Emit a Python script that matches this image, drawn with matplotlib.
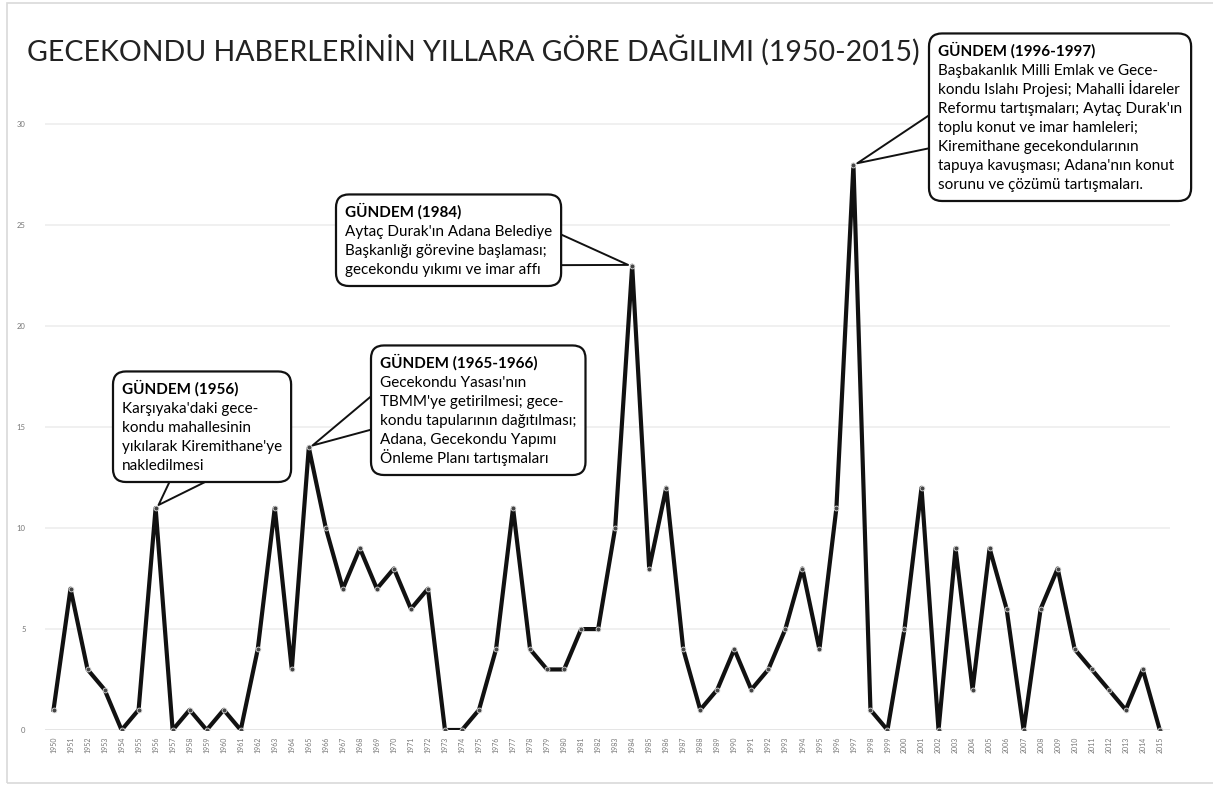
import matplotlib.pyplot as plt
from matplotlib.patches import Rectangle, FancyBboxPatch
from matplotlib.transforms import Bbox, IdentityTransform

# yearly number of news items
years = list(range(1950, 2016))
counts = [1, 7, 3, 2, 0, 1, 11, 0, 1, 0, 1, 0, 4, 11, 3, 14, 10, 7, 9, 7,
          8, 6, 7, 0, 0, 1, 4, 11, 4, 3, 3, 5, 5, 10, 23, 8, 12, 4, 1, 2,
          4, 2, 3, 5, 8, 4, 11, 28, 1, 0, 5, 12, 0, 9, 2, 9, 6, 0, 6, 8,
          4, 3, 2, 1, 3, 0]

title = "GECEKONDU HABERLERİNİN YILLARA GÖRE DAĞILIMI (1950-2015)"

# callouts: year pointed at, header, body
callout_years = [1956, 1965, 1984, 1997]
callout_heads = ["GÜNDEM (1956)", "GÜNDEM (1965-1966)", "GÜNDEM (1984)",
                 "GÜNDEM (1996-1997)"]
callout_bodies = [
    "Karşıyaka'daki gece-\nkondu mahallesinin\nyıkılarak Kiremithane'ye\nnakledilmesi",
    "Gecekondu Yasası'nın\nTBMM'ye getirilmesi; gece-\nkondu tapularının dağıtılması;\nAdana, Gecekondu Yapımı\nÖnleme Planı tartışmaları",
    "Aytaç Durak'ın Adana Belediye\nBaşkanlığı görevine başlaması;\ngecekondu yıkımı ve imar affı",
    "Başbakanlık Milli Emlak ve Gece-\nkondu Islahı Projesi; Mahalli İdareler\nReformu tartışmaları; Aytaç Durak'ın\ntoplu konut ve imar hamleleri;\nKiremithane gecekondularının\ntapuya kavuşması; Adana'nın konut\nsorunu ve çözümü tartışmaları.",
]
# header baseline-left (figure pixels, from bottom-left)
head_pos = [(122, 391), (380, 417), (345, 568), (938, 729)]
# where the tail leaves the box: side and fraction along it
tail_side = ['bottom', 'left', 'right', 'left']
tail_frac = [0.46, 0.52, 0.42, 0.44]

plt.rcParams['font.family'] = ['Lato', 'DejaVu Sans']

W, H = 1213, 785
fig = plt.figure(figsize=(W / 100, H / 100), dpi=100)
fig.patches.append(Rectangle((7 / W, 2 / H), 1.01, 780 / H,
                             transform=fig.transFigure, fill=False,
                             ec='#d9d9d9', lw=1.2))

ax = fig.add_axes([45 / W, 55 / H, 1125 / W, 660 / H])
ax.plot(years, counts, color='#111111', lw=3.0, marker='o', ms=3.5,
        mfc='#444444', mec='#dddddd', mew=0.6, zorder=3)

ax.set_xlim(1949.5, 2015.6)
ax.set_ylim(0, 32.7)
ax.set_yticks(range(0, 31, 5))
ax.set_xticks(years)
ax.set_xticklabels([str(y) for y in years], rotation=90, fontsize=5,
                   color='#777777')
ax.tick_params(axis='y', labelsize=5.5, colors='#777777', length=0, pad=14)
ax.tick_params(axis='x', length=0, pad=5)
ax.grid(axis='y', color='#eeeeee', lw=1.2)
ax.set_axisbelow(True)
for s in ax.spines.values():
    s.set_visible(False)
ax.axhline(0, color='#e3e3e3', lw=1.2, zorder=1)

fig.text(27 / W, 1 - 50 / H, title, fontsize=20.5, color='#222222',
         va='center', ha='left')

fs = 11
pitch = 19  # px between text lines
groups = []
for head, body, pos in zip(callout_heads, callout_bodies, head_pos):
    texts = [ax.annotate(head, xy=pos, xycoords='figure pixels', fontsize=fs,
                         fontweight='bold', va='baseline', ha='left',
                         color='#000000', zorder=6)]
    for i, line in enumerate(body.split("\n")):
        texts.append(ax.annotate(line, xy=(pos[0], pos[1] - pitch * (i + 1)),
                                 xycoords='figure pixels', fontsize=fs,
                                 va='baseline', ha='left', color='#000000',
                                 zorder=6))
    groups.append(texts)

fig.canvas.draw()
r = fig.canvas.get_renderer()
pad = 9
inset = 14  # tail starts inside the box, the box hides its base
for texts, yr, side, frac in zip(groups, callout_years, tail_side, tail_frac):
    bb = Bbox.union([t.get_window_extent(r) for t in texts])
    x0, y0 = bb.x0 - pad, bb.y0 - pad
    w, hh = bb.width + 2 * pad, bb.height + 2 * pad
    box = FancyBboxPatch((x0, y0), w, hh,
                         boxstyle='round,pad=0,rounding_size=13',
                         transform=IdentityTransform(), fc='white',
                         ec='#111111', lw=1.6, zorder=5, clip_on=False)
    ax.add_patch(box)
    if side == 'bottom':
        start = (x0 + frac * w, y0 + inset)
    elif side == 'left':
        start = (x0 + inset, y0 + frac * hh)
    else:
        start = (x0 + w - inset, y0 + frac * hh)
    val = counts[years.index(yr)]
    ax.annotate("", xy=(yr, val), xycoords='data', xytext=start,
                textcoords='figure pixels', zorder=4.5,
                arrowprops=dict(arrowstyle='wedge,tail_width=2.6',
                                mutation_scale=10, fc='white',
                                ec='#111111', lw=1.4, shrinkA=0,
                                shrinkB=3))

fig.savefig('out.png', dpi=100)
